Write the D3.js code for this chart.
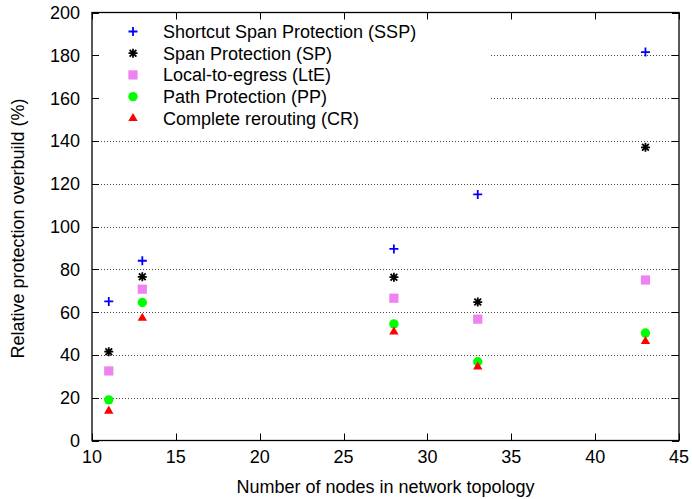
<!DOCTYPE html>
<html>
<head>
<meta charset="utf-8">
<script src="https://cdn.jsdelivr.net/npm/d3@7"></script>
<style>
  html, body { margin: 0; padding: 0; background: #fff; }
  svg { display: block; }
  text { font-family: "Liberation Sans", Arial, sans-serif; fill: #000; }
</style>
</head>
<body>
<svg id="chart" width="692" height="499"></svg>
<script>
// ---- data ----
const nodes = [11, 13, 28, 33, 43];
const seriesNames = [
  "Shortcut Span Protection (SSP)",
  "Span Protection (SP)",
  "Local-to-egress (LtE)",
  "Path Protection (PP)",
  "Complete rerouting (CR)"
];
const ssp = [65, 84, 89.5, 115, 181.5];
const sp  = [41.5, 76.5, 76.3, 64.7, 137];
const lte = [32.5, 70.7, 66.5, 56.7, 75];
const pp  = [19, 64.5, 54.5, 36.8, 50.2];
const cr  = [13.8, 57.2, 50.8, 34.4, 46.3];
const xTicks = [10, 15, 20, 25, 30, 35, 40, 45];
const yTicks = [0, 20, 40, 60, 80, 100, 120, 140, 160, 180, 200];
const xLabel = "Number of nodes in network topology";
const yLabel = "Relative protection overbuild (%)";

// ---- layout ----
const svg = d3.select("#chart");
const L = 92, R = 679, T = 12.5, B = 440.5;
const x = d3.scaleLinear().domain([10, 45]).range([L, R]);
const y = d3.scaleLinear().domain([0, 200]).range([B, T]);
const fs = 18;

const series = [
  {name: seriesNames[0], vals: ssp, type: "plus",   color: "#0000ff"},
  {name: seriesNames[1], vals: sp,  type: "star",   color: "#000000"},
  {name: seriesNames[2], vals: lte, type: "square", color: "#ee82ee"},
  {name: seriesNames[3], vals: pp,  type: "circle", color: "#00ff00"},
  {name: seriesNames[4], vals: cr,  type: "tri",    color: "#ff0000"}
];

// grid lines
svg.append("g").selectAll("line").data(yTicks.slice(1, -1)).join("line")
  .attr("x1", L).attr("x2", R)
  .attr("y1", d => Math.round(y(d)) + 0.5).attr("y2", d => Math.round(y(d)) + 0.5)
  .attr("stroke", "#444").attr("stroke-width", 1).attr("stroke-dasharray", "1,2");

// legend box (opaque, hides grid)
const legX = 133, legTextX = 163, legY0 = 31.5, legDy = 21.7;
svg.append("rect").attr("x", L + 1).attr("y", T + 1)
  .attr("width", 488 - L).attr("height", 120).attr("fill", "#fff");

function drawMarker(g, type, color, cx, cy) {
  const s = 4.5;
  if (type === "plus") {
    g.append("path").attr("d", `M${cx - s},${cy}H${cx + s}M${cx},${cy - s}V${cy + s}`)
      .attr("stroke", color).attr("stroke-width", 1.8).attr("fill", "none");
  } else if (type === "star") {
    const d = s * 0.75;
    g.append("path").attr("d",
      `M${cx - s},${cy}H${cx + s}M${cx},${cy - s}V${cy + s}` +
      `M${cx - d},${cy - d}L${cx + d},${cy + d}M${cx - d},${cy + d}L${cx + d},${cy - d}`)
      .attr("stroke", color).attr("stroke-width", 1.8).attr("fill", "none");
  } else if (type === "square") {
    g.append("rect").attr("x", cx - 4.6).attr("y", cy - 4.6).attr("width", 9.2).attr("height", 9.2)
      .attr("fill", color);
  } else if (type === "circle") {
    g.append("circle").attr("cx", cx).attr("cy", cy).attr("r", 4.7).attr("fill", color);
  } else if (type === "tri") {
    g.append("path").attr("d", d3.symbol(d3.symbolTriangle, 38)())
      .attr("transform", `translate(${cx},${cy})`).attr("fill", color);
  }
}

// legend
const leg = svg.append("g");
series.forEach((s, i) => {
  const cy = legY0 + i * legDy;
  drawMarker(leg, s.type, s.color, legX, cy);
  leg.append("text").attr("x", legTextX).attr("y", cy).attr("dy", "0.35em")
    .attr("font-size", fs).text(s.name);
});

// points
const pts = svg.append("g");
series.forEach(s => {
  s.vals.forEach((v, i) => drawMarker(pts, s.type, s.color, x(nodes[i]), y(v)));
});

// ticks (inward, mirrored)
const tk = 7;
const ticks = svg.append("g").attr("stroke", "#000").attr("stroke-width", 1);
xTicks.forEach(t => {
  const px = Math.round(x(t)) + 0.5;
  ticks.append("line").attr("x1", px).attr("x2", px).attr("y1", B).attr("y2", B - tk);
  ticks.append("line").attr("x1", px).attr("x2", px).attr("y1", T).attr("y2", T + tk);
});
yTicks.forEach(t => {
  const py = Math.round(y(t)) + 0.5;
  ticks.append("line").attr("x1", L).attr("x2", L + tk).attr("y1", py).attr("y2", py);
  ticks.append("line").attr("x1", R).attr("x2", R - tk).attr("y1", py).attr("y2", py);
});

// border
svg.append("rect").attr("x", L).attr("y", T).attr("width", R - L).attr("height", B - T)
  .attr("fill", "none").attr("stroke", "#000").attr("stroke-width", 1.3);

// tick labels
svg.append("g").selectAll("text").data(xTicks).join("text")
  .attr("x", d => x(d)).attr("y", 463).attr("text-anchor", "middle")
  .attr("font-size", fs).text(d => d);
svg.append("g").selectAll("text").data(yTicks).join("text")
  .attr("x", 80).attr("y", d => y(d)).attr("dy", "0.36em").attr("text-anchor", "end")
  .attr("font-size", fs).text(d => d);

// axis labels
svg.append("text").attr("x", (L + R) / 2).attr("y", 493).attr("text-anchor", "middle")
  .attr("font-size", fs).text(xLabel);
svg.append("text").attr("transform", `translate(24,${(T + B) / 2 + 2}) rotate(-90)`)
  .attr("text-anchor", "middle").attr("font-size", fs).text(yLabel);
</script>
</body>
</html>
